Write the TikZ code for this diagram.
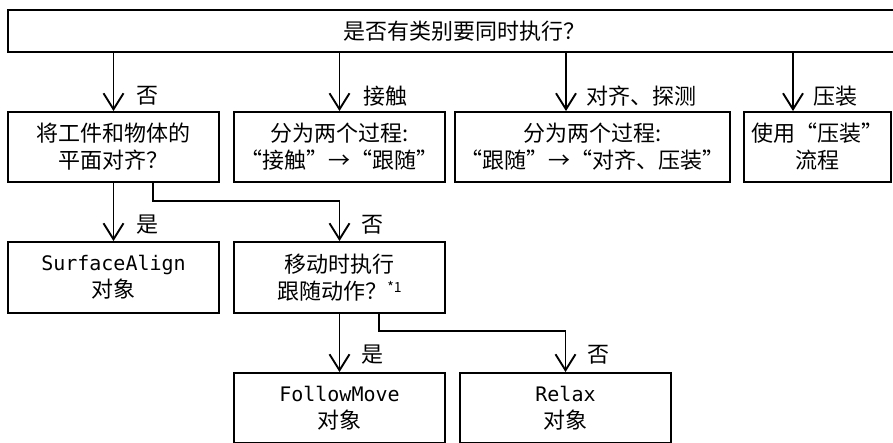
\documentclass[tikz,border=0pt]{standalone}
\usepackage{fontspec}
\setmainfont{Noto Sans CJK SC}
\newfontfamily\monofnt{DejaVu Sans Mono}
\usetikzlibrary{arrows.meta}
\begin{document}
\begin{tikzpicture}[x=1pt,y=-1pt,
  box/.style={draw, line width=1.9pt, inner sep=0pt, align=center, font=\fontsize{22}{27}\selectfont},
  arr/.style={line width=1.9pt, -{Straight Barb[length=16pt,width=20pt,line width=1.9pt]}},
  lbl/.style={inner sep=0pt, font=\fontsize{22}{27}\selectfont}]
\useasboundingbox (0,0) rectangle (893,442);
\clip (0,0) rectangle (893,442);
\node[box, minimum width=912pt, minimum height=42pt] (top) at (464,31) {是否有类别要同时执行？};
\node[box, minimum width=211pt, minimum height=70pt] (A) at (113.5,147) {将工件和物体的\\平面对齐？};
\node[box, minimum width=211pt, minimum height=70pt] (B) at (339.5,147) {分为两个过程:\\“接触”→“跟随”};
\node[box, minimum width=275pt, minimum height=70pt] (C) at (592.5,147) {分为两个过程:\\“跟随”→“对齐、压装”};
\node[box, minimum width=147pt, minimum height=70pt] (D) at (817.5,147) {使用“压装”\\流程};
\node[box, minimum width=211pt, minimum height=71pt] (E) at (113.5,277.5) {{\monofnt\fontsize{20}{27}\selectfont SurfaceAlign}\\对象};
\node[box, minimum width=211pt, minimum height=71pt] (F) at (339.5,277.5) {移动时执行\\跟随动作？\raisebox{0.6ex}{\fontsize{14}{14}\selectfont *1}};
\node[box, minimum width=211pt, minimum height=70pt] (G) at (339.5,408) {{\monofnt\fontsize{20}{27}\selectfont FollowMove}\\对象};
\node[box, minimum width=211pt, minimum height=70pt] (H) at (565.5,408) {{\monofnt\fontsize{20}{27}\selectfont Relax}\\对象};
% row 2 arrows
\coordinate (c3) at (566,0);
\coordinate (c4) at (793,0);
\draw[arr] (top.south -| A.north) -- (A.north);
\draw[arr] (top.south -| B.north) -- (B.north);
\draw[arr] (top.south -| c3) -- (C.north -| c3);
\draw[arr] (top.south -| c4) -- (D.north -| c4);
\node[lbl] (l1) at (147,96) {否};
\node[lbl] (l2) at (385,96) {接触};
\node[lbl] (l3) at (641,96) {对齐、探测};
\node[lbl] (l4) at (835,96) {压装};
% row 3
\coordinate (a2) at (153,201);
\draw[arr] (A.south) -- (E.north);
\draw[arr] (A.south -| a2) -- (a2) -| (F.north);
\node[lbl] (l5) at (147,225) {是};
\node[lbl] (l6) at (372,225) {否};
% row 4
\coordinate (f2) at (379,331);
\draw[arr] (F.south) -- (G.north);
\draw[arr] (F.south -| f2) -- (f2) -| (H.north);
\node[lbl] (l7) at (372,355) {是};
\node[lbl] (l8) at (598,355) {否};
\end{tikzpicture}
\end{document}
